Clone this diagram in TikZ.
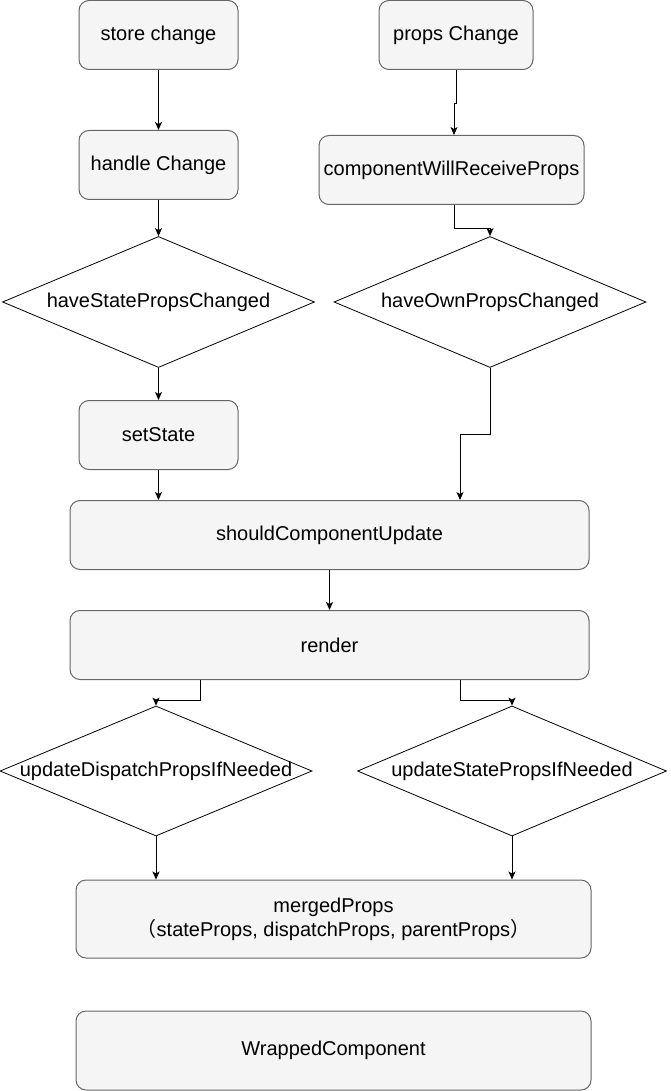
\documentclass[tikz,border=0pt]{standalone}
\usepackage{fontspec}
\setmainfont{Liberation Sans}
\newfontfamily\cjk{Noto Sans CJK SC}
\usetikzlibrary{arrows.meta,shapes.geometric}
\definecolor{boxfill}{HTML}{F5F5F5}
\definecolor{boxline}{HTML}{666666}
\begin{document}
\begin{tikzpicture}[x=1pt,y=-1pt,
  every node/.style={font=\fontsize{20}{24}\selectfont, inner sep=0pt},
  rbox/.style={draw=boxline, fill=boxfill, rounded corners=10pt, line width=1pt, align=center},
  dia/.style={draw=black, fill=white, diamond, line width=0.8pt},
  arr/.style={draw=black, line width=0.9pt, -{Stealth[length=8pt,width=7pt,inset=2pt]}}]
\useasboundingbox (0,0) rectangle (670,1091);
% boxes
\node[rbox, minimum width=159pt, minimum height=69pt] (store) at (158.5,35) {store change};
\node[rbox, minimum width=154pt, minimum height=69pt] (propsc) at (456,35) {props Change};
\node[rbox, minimum width=159pt, minimum height=69pt] (handle) at (158.5,165) {handle Change};
\node[rbox, minimum width=265pt, minimum height=69pt] (cwrp) at (451.5,170) {componentWillReceiveProps};
\node[dia, minimum width=312pt, minimum height=131pt] (hspc) at (158.5,302) {};
\node at (hspc) {haveStatePropsChanged};
\node[dia, minimum width=312pt, minimum height=131pt] (hopc) at (490,302) {};
\node at (hopc) {haveOwnPropsChanged};
\node[rbox, minimum width=159pt, minimum height=69pt] (setst) at (158.5,435) {setState};
\node[rbox, minimum width=519pt, minimum height=69pt] (scu) at (329.5,535) {shouldComponentUpdate};
\node[rbox, minimum width=519pt, minimum height=69pt] (render) at (329.5,645) {render};
\node[dia, minimum width=312pt, minimum height=130pt] (udp) at (156,771) {};
\node at (udp) {updateDispatchPropsIfNeeded};
\node[dia, minimum width=309pt, minimum height=130pt] (usp) at (512,771) {};
\node at (usp) {updateStatePropsIfNeeded};
\node[rbox, minimum width=515pt, minimum height=78pt] (merged) at (333.5,919) {mergedProps\\{\cjk （}stateProps, dispatchProps, parentProps{\cjk ）}};
\node[rbox, minimum width=515pt, minimum height=79pt] (wrapped) at (333.5,1050.5) {WrappedComponent};
% connectors
\draw[arr] (store.south) -- (handle.north);
\draw[arr] (propsc.south) -- ++(0,33) -| (cwrp.north -| 454,0);
\draw[arr] (handle.south) -- (hspc.north);
\draw[arr] (cwrp.south -| 454,0) |- (490,228) -- (hopc.north);
\draw[arr] (hspc.south) -- (setst.north);
\draw[arr] (hopc.south) |- (460,434) -- (scu.north -| 460,0);
\draw[arr] (setst.south) -- (scu.north -| setst.south);
\draw[arr] (scu.south) -- (render.north);
\draw[arr] (render.south -| 200,0) |- (156,700) -- (udp.north);
\draw[arr] (render.south -| 460,0) |- (512,700) -- (usp.north);
\draw[arr] (udp.south) -- (merged.north -| udp.south);
\draw[arr] (usp.south) -- (merged.north -| usp.south);
\end{tikzpicture}
\end{document}
